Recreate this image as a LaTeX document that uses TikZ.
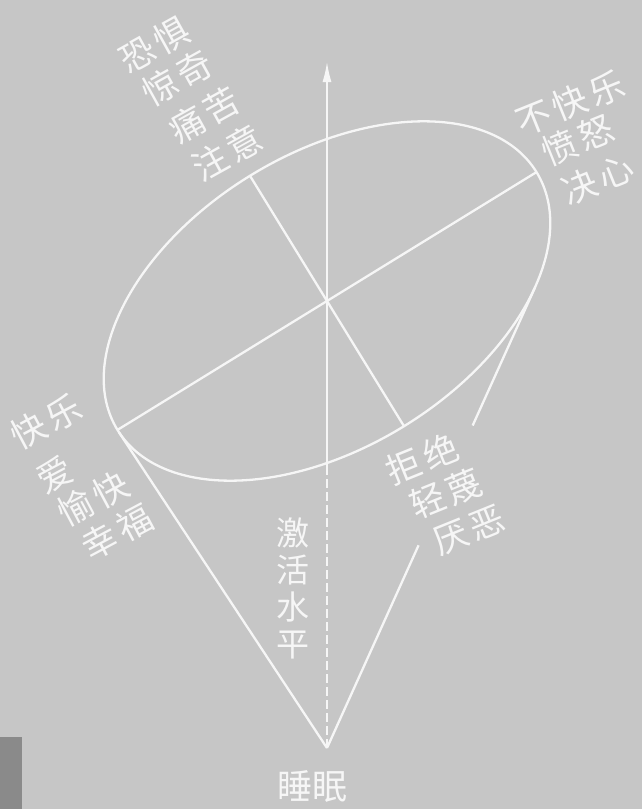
\documentclass[tikz,border=0pt]{standalone}
\usepackage{fontspec}
\newfontfamily\cjk{Noto Sans CJK SC}
\usetikzlibrary{arrows.meta,calc}
\definecolor{bg}{RGB}{198,198,198}
\definecolor{dk}{RGB}{138,138,138}
\definecolor{ln}{RGB}{246,246,246}
\newcommand{\g}{\hspace{0.12em}}
\begin{document}
\begin{tikzpicture}[x=1pt,y=-1pt,
  lab/.style={text=ln, font=\cjk\fontsize{35}{42}\selectfont, inner sep=0pt},
  vlab/.style={text=ln, font=\cjk\fontsize{33}{37}\selectfont, inner sep=0pt, align=center},
  wl/.style={draw=ln, line width=2.3pt},
  axisline/.style={draw=ln, line width=1.4pt}]
\fill[bg] (0,0) rectangle (642,809);
\fill[dk] (0,737) rectangle (22,809);
\useasboundingbox (0,0) rectangle (642,809);
% key points
\coordinate (C) at (327,301);
\coordinate (A) at (327,748);
\coordinate (Tl) at (118.9,432.2);
\coordinate (Tr) at (535.1,287.3);
\coordinate (M1) at (117.5,429.9);
\coordinate (M2) at (536.5,172.1);
\coordinate (N1) at (250,175.8);
\coordinate (N2) at (404,426.2);
\coordinate (Bot) at (327,466);
\coordinate (Top) at (327,62);
% ellipse and axes
\draw[wl, rotate around={31.6:(C)}] (C) ellipse [x radius=246pt, y radius=147pt];
\draw[wl] (M1) -- (M2);
\draw[wl] (N1) -- (N2);
% cone
\draw[wl] (A) -- (Tl);
\draw[wl] (A) -- ($(A)!0.44!(Tr)$);
\draw[wl] ($(A)!0.70!(Tr)$) -- (Tr);
% vertical axis
\draw[axisline, -{Latex[length=20pt,width=9pt]}] (Bot) -- (Top);
\draw[axisline, dash pattern=on 9pt off 4pt] (A) -- (Bot);
% labels top-left
\node[lab, rotate=29] (a1) at (154.5,45) {恐\g 惧};
\node[lab, rotate=29] (a2) at (177.5,77.5) {惊\g 奇};
\node[lab, rotate=29] (a3) at (204,115) {痛\g 苦};
\node[lab, rotate=29] (a4) at (227,153) {注\g 意};
% labels right
\node[lab, rotate=22] (b1) at (570,103) {不\g 快\g 乐};
\node[lab, rotate=22] (b2) at (578,140) {愤\g 怒};
\node[lab, rotate=22] (b3) at (598,179) {决\g 心};
% labels left
\node[lab, rotate=28] (c1) at (46,421.5) {快\g 乐};
\node[lab, rotate=28] (c2) at (55,475) {爱};
\node[lab, rotate=28] (c3) at (93.5,498.5) {愉\g 快};
\node[lab, rotate=28] (c4) at (117.5,532) {幸\g 福};
% labels bottom-right
\node[lab, rotate=22] (d1) at (422,458.5) {拒\g 绝};
\node[lab, rotate=22] (d2) at (446,493.5) {轻\g 蔑};
\node[lab, rotate=22] (d3) at (469,530.5) {厌\g 恶};
% vertical label and sleep
\node[vlab] (act) at (293,588) {激\\活\\水\\平};
\node[lab] (sleep) at (312,786) {睡眠};
\end{tikzpicture}
\end{document}
